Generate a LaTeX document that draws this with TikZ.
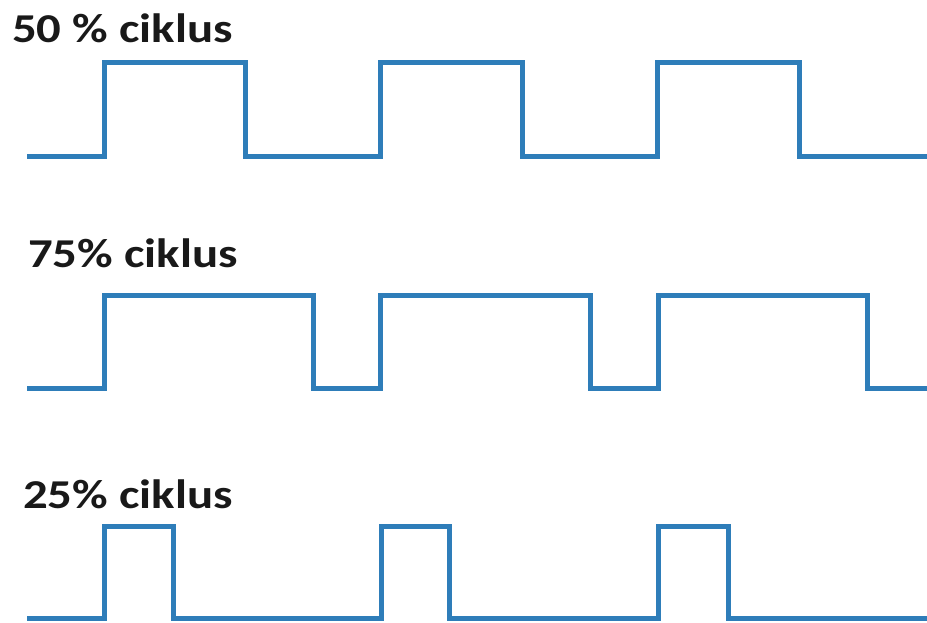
\documentclass[tikz,border=0pt]{standalone}
\usepackage{fontspec}
\setmainfont{Carlito}
\definecolor{wave}{RGB}{46,125,185}
\newcommand{\widetxt}[1]{\scalebox{1.19}[1]{#1}}
\begin{document}
\begin{tikzpicture}[x=1pt,y=-1pt,
  sig/.style={draw=wave,line width=5pt,line join=miter},
  lbl/.style={anchor=base west,inner sep=0pt,font=\fontsize{41}{48}\selectfont\bfseries,text=black!90}]
\useasboundingbox (0,0) rectangle (927,623);
% 50 %
\node[lbl] (l50) at (12,43) {\widetxt{50 \% ciklus}};
\draw[sig] (27,157) -- (104,157) -- (104,63) -- (245,63) -- (245,157) -- (380,157) -- (380,63) -- (522,63) -- (522,157)
  -- (657,157) -- (657,63) -- (799,63) -- (799,157) -- (927,157);
% 75 %
\node[lbl] (l75) at (28,267) {\widetxt{75\% ciklus}};
\draw[sig] (27,388) -- (104,388) -- (104,295) -- (313,295) -- (313,388) -- (380,388) -- (380,295) -- (590,295) -- (590,388)
  -- (658,388) -- (658,295) -- (867,295) -- (867,388) -- (927,388);
% 25 %
\node[lbl] (l25) at (23,508) {\widetxt{25\% ciklus}};
\draw[sig] (27,618) -- (104,618) -- (104,526) -- (173,526) -- (173,618) -- (381,618) -- (381,526) -- (449,526) -- (449,618)
  -- (658,618) -- (658,526) -- (728,526) -- (728,618) -- (927,618);
\end{tikzpicture}
\end{document}
